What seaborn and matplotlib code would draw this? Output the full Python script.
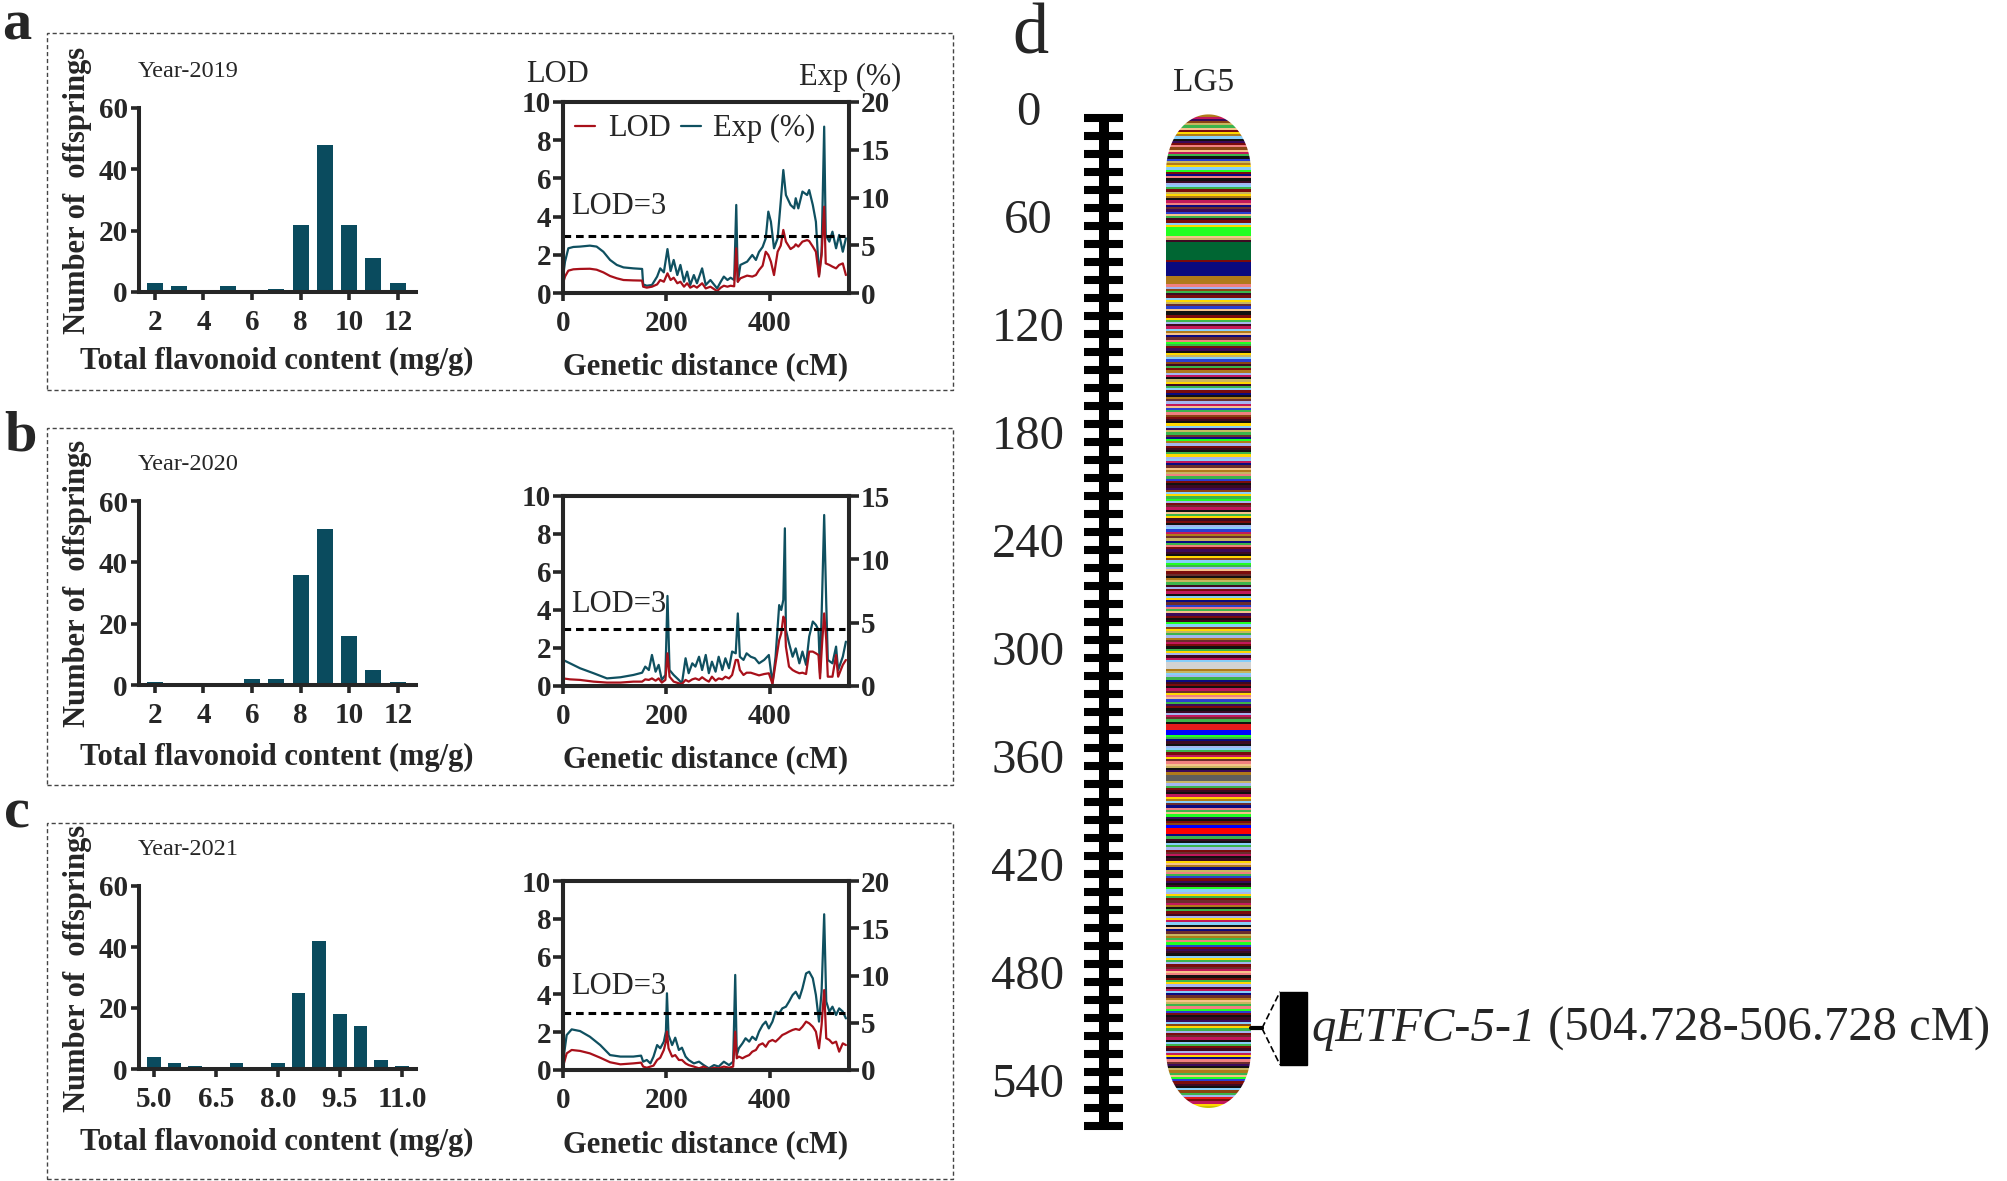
import numpy as np
import pandas as pd
import matplotlib.pyplot as plt
import seaborn as sns
from matplotlib.patches import Rectangle, PathPatch
from matplotlib.path import Path
from matplotlib.lines import Line2D
from matplotlib.ticker import FormatStrFormatter

W, H = 2008, 1181

# --- histogram data (number of offsprings per flavonoid bin) ---
bins_2019 = [2, 3, 4, 5, 6, 7, 8, 9, 10, 11, 12]
count_2019 = [3, 2, 0, 2, 0, 1, 22, 48, 22, 11, 3]
bins_2020 = [2, 3, 4, 5, 6, 7, 8, 9, 10, 11, 12]
count_2020 = [1, 0, 0, 0, 2, 2, 36, 51, 16, 5, 1]
bins_2021 = [5.0, 5.5, 6.0, 6.5, 7.0, 7.5, 8.0, 8.5, 9.0, 9.5, 10.0, 10.5, 11.0]
count_2021 = [4, 2, 1, 0, 2, 0, 2, 25, 42, 18, 14, 3, 1]

# --- QTL scans on LG5 (position cM, LOD, Exp %) ---
pos_2019 = [0, 3.9, 10.3, 20, 33, 52, 65, 78, 91, 104,
            117, 136, 153, 155, 162, 172, 182, 188, 195, 202,
            208, 214, 221, 227, 234, 240, 246, 253, 259, 269,
            276, 285, 298, 305, 311, 318, 324, 331, 335, 338,
            343, 356, 366, 373, 379, 386, 392, 397, 402, 408,
            415, 421, 426, 431, 440, 447, 450, 455, 463, 472,
            476, 483, 489, 495, 500, 505, 508, 515, 521, 528,
            534, 541, 547]
lod_2019 = [0.51, 0.86, 1.17, 1.24, 1.26, 1.27, 1.22, 1.08, 0.89, 0.77,
            0.68, 0.66, 0.65, 0.33, 0.28, 0.33, 0.45, 0.68, 0.59, 1.03,
            0.68, 0.80, 0.51, 0.59, 0.33, 0.51, 0.28, 0.38, 0.28, 0.51,
            0.24, 0.33, 0.10, 0.28, 0.38, 0.33, 0.38, 0.35, 2.34, 0.59,
            0.77, 0.91, 0.86, 0.94, 1.20, 1.43, 2.16, 1.99, 1.64, 0.94,
            2.16, 2.48, 3.30, 2.69, 2.30, 2.43, 2.55, 2.43, 2.69, 2.77,
            2.72, 2.43, 2.16, 0.86, 1.99, 4.52, 1.55, 1.47, 1.38, 1.29,
            1.47, 1.55, 0.94]
exp_2019 = [1.72, 3.28, 4.68, 4.82, 4.86, 4.96, 4.86, 4.32, 3.46, 2.94,
            2.68, 2.58, 2.52, 0.90, 0.76, 0.84, 1.72, 2.58, 2.16, 4.60,
            2.30, 3.46, 1.88, 2.94, 1.18, 2.24, 0.84, 1.88, 1.02, 2.58,
            0.84, 1.36, 0.48, 1.18, 1.72, 1.36, 1.60, 1.36, 9.22, 1.18,
            2.94, 3.28, 3.98, 3.46, 4.30, 4.82, 5.72, 8.52, 7.46, 4.68,
            5.72, 9.56, 12.88, 10.26, 9.22, 8.86, 9.92, 8.86, 10.62, 10.26,
            10.78, 9.22, 7.46, 1.88, 4.32, 17.42, 6.08, 5.38, 6.42, 4.68,
            6.08, 4.32, 5.72]

pos_2020 = [0, 13.6, 33, 59, 85, 111, 136, 153, 159, 166,
            172, 179, 185, 191, 198, 202, 206, 214, 224, 230,
            237, 243, 250, 256, 263, 269, 276, 282, 288, 295,
            301, 308, 314, 321, 327, 334, 338, 342, 349, 355,
            363, 371, 379, 389, 398, 405, 411, 418, 422, 426,
            429, 431, 437, 444, 450, 457, 463, 470, 476, 483,
            489, 494, 497, 501, 505, 509, 512, 521, 528, 532,
            541, 547]
lod_2020 = [0.40, 0.35, 0.32, 0.23, 0.18, 0.18, 0.23, 0.23, 0.35, 0.32,
            0.40, 0.28, 0.40, 0.18, 0.32, 1.72, 0.49, 0.23, 0.14, 0.11,
            0.32, 0.23, 0.35, 0.40, 0.32, 0.46, 0.32, 0.23, 0.49, 0.28,
            0.40, 0.35, 0.49, 0.40, 0.58, 1.37, 1.37, 0.84, 0.58, 0.70,
            0.70, 0.63, 0.56, 0.63, 0.67, 0.11, 1.19, 2.42, 2.77, 3.65,
            3.47, 2.07, 1.02, 0.84, 0.75, 0.67, 0.70, 0.63, 1.81, 1.81,
            1.72, 1.63, 0.40, 2.25, 3.82, 2.42, 0.49, 0.49, 1.63, 0.49,
            1.11, 1.37]
exp_2020 = [2.06, 1.79, 1.40, 1.01, 0.60, 0.69, 0.87, 1.05, 1.53, 1.26,
            2.45, 1.13, 1.67, 0.48, 0.87, 7.11, 1.26, 0.87, 0.48, 0.21,
            2.19, 1.01, 1.79, 1.53, 2.31, 1.26, 2.45, 1.01, 1.92, 1.13,
            2.31, 1.26, 2.19, 1.40, 2.72, 2.58, 5.73, 2.31, 2.06, 2.58,
            2.31, 2.19, 1.79, 2.06, 2.45, 0.21, 2.31, 6.39, 6.00, 6.80,
            12.45, 4.43, 3.38, 2.31, 2.97, 1.79, 2.72, 1.67, 3.90, 5.09,
            4.82, 4.43, 1.01, 7.05, 13.50, 6.53, 2.06, 1.79, 3.11, 1.26,
            2.31, 3.50]

pos_2021 = [0, 7.1, 16.8, 33, 52, 72, 91, 111, 136, 151,
            155, 162, 169, 175, 182, 188, 195, 199, 201, 204,
            211, 217, 224, 230, 237, 243, 253, 263, 272, 282,
            292, 301, 311, 321, 329, 333, 336, 340, 347, 353,
            360, 366, 373, 379, 386, 392, 398, 405, 411, 418,
            424, 431, 437, 444, 450, 457, 463, 470, 476, 483,
            489, 495, 500, 505, 509, 515, 521, 528, 534, 541,
            547]
lod_2021 = [0.18, 0.88, 1.06, 1.01, 0.88, 0.65, 0.41, 0.30, 0.35, 0.39,
            0.18, 0.12, 0.18, 0.23, 0.53, 0.65, 1.06, 1.50, 2.03, 1.15,
            0.71, 0.79, 0.53, 0.53, 0.35, 0.26, 0.18, 0.09, 0.18, 0.05,
            0.12, 0.09, 0.18, 0.12, 0.18, 2.03, 0.62, 0.71, 0.62, 0.71,
            0.79, 0.97, 1.06, 1.32, 1.41, 1.23, 1.50, 1.59, 1.50, 1.68,
            1.85, 1.94, 2.03, 2.12, 2.17, 2.12, 2.29, 2.56, 2.47, 2.29,
            2.03, 1.15, 2.38, 4.23, 1.68, 1.59, 1.41, 1.50, 0.97, 1.41,
            1.32]
exp_2021 = [0.88, 3.70, 4.30, 4.12, 3.52, 2.64, 1.58, 1.42, 1.42, 1.52,
            0.88, 1.06, 0.70, 1.42, 2.64, 2.30, 3.00, 4.06, 8.12, 3.70,
            2.64, 3.42, 2.12, 2.36, 1.42, 1.06, 0.70, 0.88, 0.52, 0.18,
            0.52, 0.36, 0.88, 0.52, 0.88, 10.06, 1.58, 2.30, 2.82, 3.36,
            3.00, 3.52, 3.18, 4.06, 4.76, 5.12, 4.40, 5.12, 6.18, 6.00,
            6.52, 6.70, 7.24, 7.94, 8.28, 7.58, 8.64, 10.22, 10.40, 9.70,
            7.94, 5.12, 8.28, 16.48, 7.24, 6.18, 6.70, 5.82, 6.52, 6.18,
            5.46]

# --- linkage group LG5 ---
scale_labels = [0, 60, 120, 180, 240, 300, 360, 420, 480, 540]
ruler_end = 560
chrom_top, chrom_bottom = -2, 550
qtl_name = 'qETFC-5-1'
qtl_start, qtl_end = 504.728, 506.728

band_palette = {
    'k': '#111111', 'm': '#7a0c0c', 'r': '#e31a1c', 'R': '#ff0000',
    'n': '#0a0a80', 'b': '#2a3fd0', 'B': '#0000ff', 'g': '#3cb44b',
    'l': '#22ff22', 'd': '#006633', 'y': '#ffd700', 't': '#f5c28a',
    'o': '#b07a1a', 'u': '#8b4513', 'c': '#87cefa', 'p': '#3b0a5a',
    'v': '#c2185b', 's': '#f08080', 'e': '#5e5e5e', 'w': '#d3d3d3',
    'h': '#c8b560', 'a': '#c9c400', 'q': '#a3b5f0', 'x': '#3d0a22',
    'z': '#6b2d2d',
}
band_pattern = [
    "ovpuhgtmyockpmsutvgkbhoyclmnsk",
    "xqcgmhyokvsnzpbtgxmcyllllthxdd",
    "ddddddmnnnnnnoooosqugxmcyhzbtk",
    "kmygqxvcotnzslgmpkyhcbuxgmoqvk",
    "hyxgcmnkozqvtbgsumxkycphgznloq",
    "mxkgyqcvnztohsgbmkxpucyglqmzvk",
    "tgyxmkqcbvozhngsmpxkyuclgqtmzk",
    "ohgxqmvkcynzbsgtpmkxlcuyhgqozv",
    "mkgyqxvcwwwohcqgnxmkvzystbgpmk",
    "xqvzgkrrrBBlgnxkqcgmvyzsthkpoe",
    "eehqgmxkvyocznsgtlpkmuBRRRngxk",
    "cgqmzvkxytonhsgbmpkxlcqygmzvok",
    "gmxqyvcktnzhogslbmpxkcygqmzvts",
    "kmgyqxvcnzothgslbmkxpcuygqmzvk",
    "cgmxqvynszpkhogtlbmxkcugqrmvya",
]

bar_color = '#0a4b5e'
lod_color = '#a8101a'
exp_color = '#0f5060'

sns.set_style('ticks')
plt.rcParams['font.family'] = ['Liberation Serif', 'DejaVu Serif']


def px_box(l, t, r, b):
    return [l / W, 1 - b / H, (r - l) / W, (b - t) / H]


def fx(x):
    return x / W


def fy(y):
    return 1 - y / H


def bold_ticks(ax):
    for lab in ax.get_xticklabels() + ax.get_yticklabels():
        lab.set_fontweight('bold')


fig = plt.figure(figsize=(W / 100, H / 100), dpi=100)

# dashed frames around a, b, c
for top, bot in [(33, 390), (428, 785), (823, 1179)]:
    fig.add_artist(Rectangle((fx(47), fy(bot)), (953 - 47) / W, (bot - top) / H,
                             transform=fig.transFigure, fill=False,
                             ec='#444444', lw=1.0, ls=(0, (3, 2))))


def hist_panel(box, bins, counts, xlim, xticks, fmt, year, year_y, xl_y, yl_y):
    ax = fig.add_axes(px_box(*box))
    sns.barplot(x=bins, y=counts, native_scale=True, orient='x', width=0.66,
                color=bar_color, saturation=1, errorbar=None, linewidth=0, ax=ax)
    ax.set_xlim(*xlim)
    ax.set_ylim(0, 60)
    ax.set_xticks(xticks)
    ax.set_yticks([0, 20, 40, 60])
    if fmt:
        ax.xaxis.set_major_formatter(FormatStrFormatter(fmt))
    sns.despine(ax=ax)
    for s in ['left', 'bottom']:
        ax.spines[s].set_linewidth(2.9)
    ax.tick_params(width=2.6, length=6, labelsize=21)
    ax.tick_params(axis='x', pad=6)
    ax.tick_params(axis='y', pad=2)
    ax.set_xlabel('')
    ax.set_ylabel('')
    bold_ticks(ax)
    fig.text(fx(138), fy(year_y), year, fontsize=17.5, va='baseline', ha='left')
    fig.text(fx(277), fy(xl_y), 'Total flavonoid content (mg/g)', fontsize=22,
             fontweight='bold', ha='center', va='center')
    fig.text(fx(78), fy(yl_y), 'Number of  offsprings', fontsize=22,
             fontweight='bold', ha='center', va='center', rotation=90)
    return ax


def lod_panel(box, pos, lod, exp, exp_max, lod3_y, xl_y, legend=False):
    ax = fig.add_axes(px_box(*box))
    ax2 = ax.twinx()
    sns.lineplot(x=pos, y=exp, ax=ax2, color=exp_color, lw=1.6, estimator=None)
    sns.lineplot(x=pos, y=lod, ax=ax, color=lod_color, lw=1.6, estimator=None)
    ax.set_zorder(ax2.get_zorder() + 1)
    ax.patch.set_visible(False)
    ax.hlines(3, 0, 545, colors='black', lw=2.2, ls=(0, (2.5, 1.6)))
    ax.text(15, lod3_y, 'LOD=3', fontsize=22, va='center', ha='left')
    ax.set_xlim(0, 553)
    ax.set_ylim(0, 10)
    ax2.set_ylim(0, exp_max)
    ax.set_xticks([0, 200, 400])
    ax.set_yticks([0, 2, 4, 6, 8, 10])
    ax2.set_yticks(list(range(0, exp_max + 1, 5)))
    for a in (ax, ax2):
        for s in a.spines.values():
            s.set_linewidth(2.9)
        a.tick_params(width=2.6, length=7, labelsize=21, pad=1.5)
        a.set_xlabel('')
        a.set_ylabel('')
        bold_ticks(a)
    ax.tick_params(axis='x', length=6, pad=6)
    fig.text(fx(706), fy(xl_y), 'Genetic distance (cM)', fontsize=22,
             fontweight='bold', ha='center', va='center')
    if legend:
        handles = [Line2D([], [], color=lod_color, lw=1.6),
                   Line2D([], [], color=exp_color, lw=1.6)]
        ax.legend(handles, ['LOD', 'Exp (%)'], ncol=2, loc='upper left',
                  bbox_to_anchor=(0, 1), borderaxespad=0, frameon=False,
                  handlelength=0.65, handletextpad=0.42, columnspacing=0.33,
                  prop={'size': 22})
    return ax


hist_panel((139, 108, 416, 292), bins_2019, count_2019, (1.35, 12.75),
           [2, 4, 6, 8, 10, 12], None, 'Year-2019', 77, 361, 190)
hist_panel((139, 501, 416, 685), bins_2020, count_2020, (1.35, 12.75),
           [2, 4, 6, 8, 10, 12], None, 'Year-2020', 470, 757, 583)
hist_panel((139, 886, 416, 1069), bins_2021, count_2021, (4.64, 11.34),
           [5.0, 6.5, 8.0, 9.5, 11.0], '%.1f', 'Year-2021', 855, 1142, 968)

lod_panel((563, 102, 849, 293), pos_2019, lod_2019, exp_2019, 20, 4.55, 367, legend=True)
lod_panel((563, 496, 849, 686), pos_2020, lod_2020, exp_2020, 15, 4.3, 760)
lod_panel((563, 881, 849, 1070), pos_2021, lod_2021, exp_2021, 20, 4.4, 1145)

fig.text(fx(558), fy(75), 'LOD', fontsize=22, ha='center', va='center')
fig.text(fx(850), fy(77), 'Exp (%)', fontsize=22, ha='center', va='center')

# panel letters
fig.text(fx(2), fy(40), 'a', fontsize=42, fontweight='bold', va='baseline')
fig.text(fx(4), fy(451), 'b', fontsize=42, fontweight='bold', va='baseline')
fig.text(fx(4), fy(828), 'c', fontsize=42, fontweight='bold', va='baseline')
fig.text(fx(1012), fy(54), 'd', fontsize=52, va='baseline')

# --- panel d: linkage map ---
ax_d = fig.add_axes(px_box(1000, 0, 2008, 1181))
ax_d.set_xlim(1000, 2008)
ax_d.set_ylim((1181 - 118) / 1.8, -118 / 1.8)
ax_d.axis('off')

ruler_ticks = np.arange(0, ruler_end + 1, 10)
ax_d.vlines(1104, 0, ruler_end, colors='black', lw=7.2)
ax_d.hlines(ruler_ticks, 1084, 1123, colors='black', lw=5.8)
for v in scale_labels:
    ax_d.text(1028, v - 3, str(v), fontsize=35, ha='center', va='center')

cx, half_w, cap = 1208.5, 42.5, 32
th1 = np.linspace(np.pi, 0, 60)
th2 = np.linspace(0, -np.pi, 60)
verts = np.vstack([
    np.column_stack([cx + half_w * np.cos(th1), chrom_top + cap * (1 - np.sin(th1))]),
    np.column_stack([cx + half_w * np.cos(th2), chrom_bottom - cap * (1 + np.sin(th2))]),
])
verts = np.vstack([verts, verts[:1]])
clip = PathPatch(Path(verts, closed=True), transform=ax_d.transData,
                 facecolor='none', edgecolor='none')
ax_d.add_patch(clip)

band_colors = [band_palette[ch] for ch in ''.join(band_pattern)]
n_bands = len(band_colors)
band_h = (chrom_bottom - chrom_top) / n_bands
centers = chrom_top + band_h * (np.arange(n_bands) + 0.5)
bars = ax_d.barh(centers, width=2 * half_w, left=cx - half_w, height=band_h * 1.03,
                 color=band_colors, linewidth=0)
for p in bars.patches:
    p.set_clip_path(clip)

ax_d.text(cx - 5, -19.4, 'LG5', fontsize=24, ha='center', va='center')

mid = (qtl_start + qtl_end) / 2
half = 20.3
ax_d.plot([cx + half_w, 1262], [mid, mid], color='black', lw=3)
ax_d.plot([1262, 1280], [mid, mid - half], color='black', lw=1.2, ls=(0, (4, 2)))
ax_d.plot([1262, 1280], [mid, mid + half], color='black', lw=1.2, ls=(0, (4, 2)))
ax_d.add_patch(Rectangle((1280, mid - half), 27, 2 * half, color='black'))

base_y = mid + 7
t1 = ax_d.text(1311, base_y, qtl_name, fontsize=35, style='italic',
               ha='left', va='baseline')
fig.canvas.draw()
bb = t1.get_window_extent()
x_end = ax_d.transData.inverted().transform((bb.x1, bb.y0))[0]
ax_d.text(x_end, base_y, f' ({qtl_start:.3f}-{qtl_end:.3f} cM)', fontsize=35,
          ha='left', va='baseline')

fig.savefig('out.png', dpi=100)
